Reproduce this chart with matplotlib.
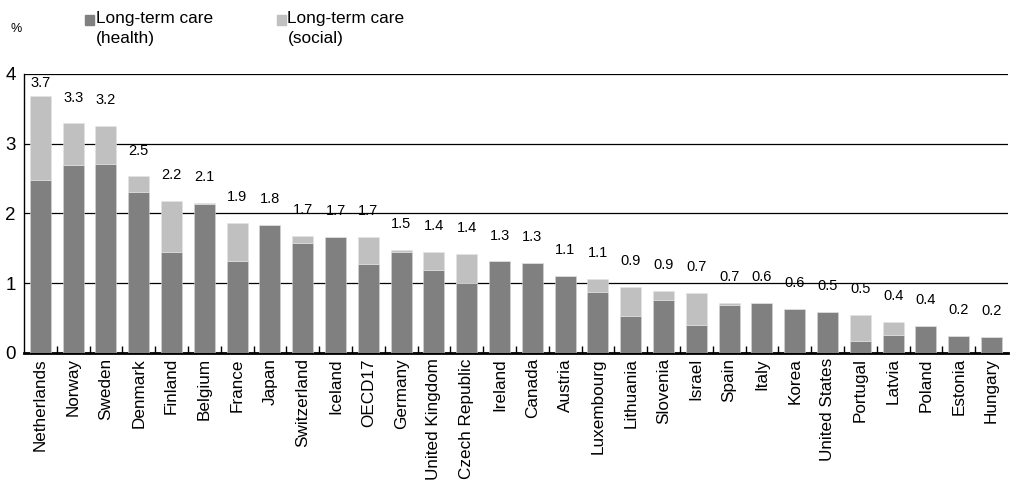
import matplotlib.pyplot as plt
from matplotlib.patches import Rectangle
import numpy as np

plt.rcParams['font.family'] = ['Liberation Sans', 'DejaVu Sans']

countries = ['Netherlands', 'Norway', 'Sweden', 'Denmark', 'Finland', 'Belgium', 'France',
             'Japan', 'Switzerland', 'Iceland', 'OECD17', 'Germany', 'United Kingdom',
             'Czech Republic', 'Ireland', 'Canada', 'Austria', 'Luxembourg', 'Lithuania',
             'Slovenia', 'Israel', 'Spain', 'Italy', 'Korea', 'United States', 'Portugal',
             'Latvia', 'Poland', 'Estonia', 'Hungary']
health = [2.48, 2.70, 2.71, 2.31, 1.45, 2.14, 1.31, 1.83, 1.57, 1.66, 1.27, 1.45, 1.18,
          1.00, 1.31, 1.29, 1.10, 0.87, 0.52, 0.76, 0.40, 0.68, 0.71, 0.63, 0.58, 0.17,
          0.25, 0.38, 0.24, 0.23]
social = [1.21, 0.59, 0.54, 0.22, 0.73, 0.01, 0.55, 0.00, 0.11, 0.00, 0.39, 0.03, 0.27,
          0.42, 0.00, 0.00, 0.00, 0.19, 0.42, 0.13, 0.46, 0.04, 0.00, 0.00, 0.00, 0.37,
          0.19, 0.00, 0.00, 0.00]
labels = ['3.7', '3.3', '3.2', '2.5', '2.2', '2.1', '1.9', '1.8', '1.7', '1.7', '1.7', '1.5',
          '1.4', '1.4', '1.3', '1.3', '1.1', '1.1', '0.9', '0.9', '0.7', '0.7', '0.6', '0.6',
          '0.5', '0.5', '0.4', '0.4', '0.2', '0.2']

c_health = '#808080'
c_social = '#c0c0c0'

fig = plt.figure(figsize=(10.12, 4.83), dpi=100)
ax = fig.add_axes([0.0237, 0.2698, 0.9723, 0.577])

x = np.arange(len(countries))
h = np.array(health)
s = np.array(social)
ax.bar(x, h, width=0.64, color=c_health, edgecolor='#d8d8d8', linewidth=0.4, zorder=3)
ax.bar(x, s, width=0.64, bottom=h, color=c_social, edgecolor='#e4e4e4', linewidth=0.4, zorder=3)

for xi, tot, lab in zip(x, h + s, labels):
    ax.text(xi, min(tot + 0.37, 3.87), lab, ha='center', va='center', fontsize=10.5)

ax.set_xlim(-0.5, len(countries) - 0.5)
ax.set_ylim(0, 4)
ax.set_yticks([0, 1, 2, 3, 4])
ax.tick_params(axis='y', length=0, labelsize=13.5, pad=6)
ax.set_xticks(x)
ax.set_xticklabels(countries, rotation=90, fontsize=12.3)
ax.tick_params(axis='x', which='major', length=0, pad=4)
ax.set_xticks(x[:-1] + 0.5, minor=True)
ax.tick_params(axis='x', which='minor', direction='in', length=5, width=1, color='black')
ax.yaxis.grid(True, color='black', linewidth=0.9, zorder=0)
ax.set_axisbelow(True)
for sp in ['top', 'right']:
    ax.spines[sp].set_visible(False)
ax.spines['bottom'].set_linewidth(2)
ax.spines['left'].set_linewidth(1)

# legend
fig.text(0.01, 0.934, '%', fontsize=9)
fig.add_artist(Rectangle((0.084, 0.948), 0.0089, 0.0207, transform=fig.transFigure,
                         color=c_health))
fig.text(0.095, 0.978, 'Long-term care\n(health)', va='top', fontsize=12.4, linespacing=1.45)
fig.add_artist(Rectangle((0.274, 0.948), 0.0089, 0.0207, transform=fig.transFigure,
                         color=c_social))
fig.text(0.284, 0.978, 'Long-term care\n(social)', va='top', fontsize=12.4, linespacing=1.45)

plt.savefig('out.png', dpi=100)
